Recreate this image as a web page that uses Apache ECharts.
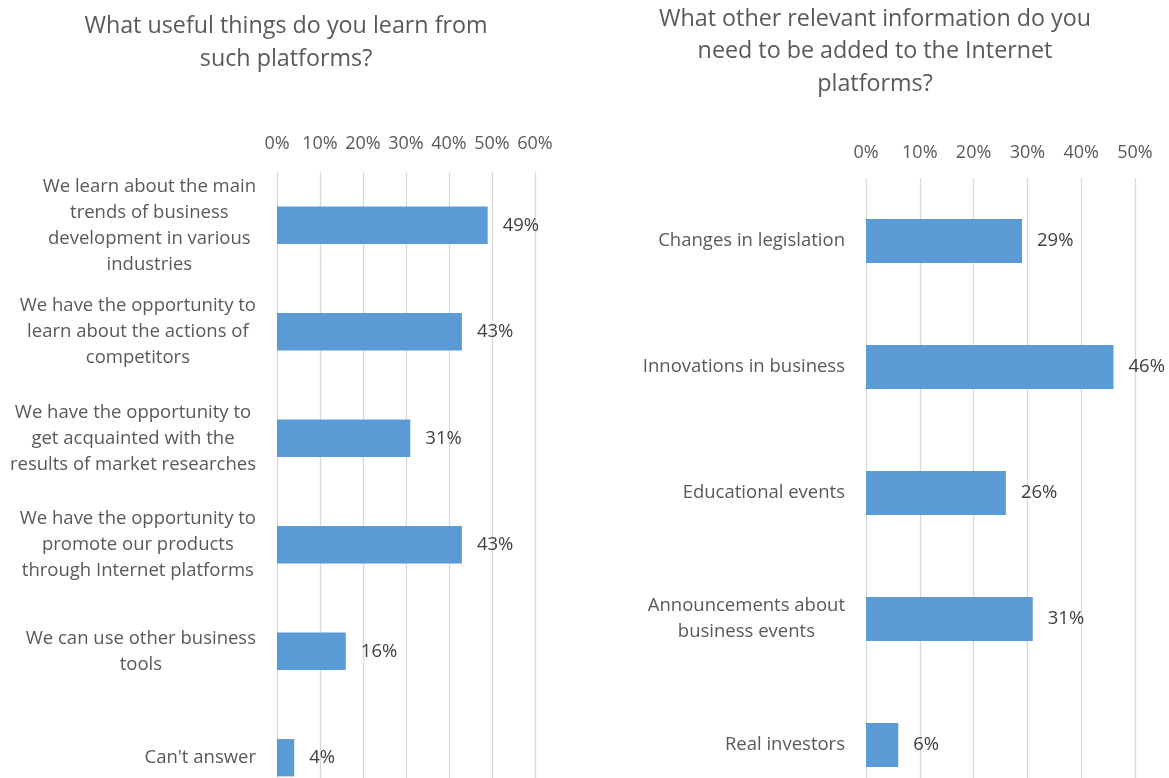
<!DOCTYPE html>
<html>
<head>
<meta charset="utf-8">
<script src="https://cdn.jsdelivr.net/npm/echarts@6/dist/echarts.min.js"></script>
<style>
html,body{margin:0;padding:0;background:#fff;overflow:hidden;}
#chart{width:1169px;height:840px;}
</style>
</head>
<body>
<div id="chart"></div>
<script>
const leftTitle = "What useful things do you learn from\nsuch platforms?";
const rightTitle = "What other relevant information do you\nneed to be added to the Internet\nplatforms?";
const leftCategories = [
  "We learn about the main\ntrends of business\ndevelopment in various\nindustries",
  "We have the opportunity to\nlearn about the actions of\ncompetitors",
  "We have the opportunity to\nget acquainted with the\nresults of market researches",
  "We have the opportunity to\npromote our products\nthrough Internet platforms",
  "We can use other business\ntools",
  "Can't answer"
];
const leftValues = [49, 43, 31, 43, 16, 4];
const rightCategories = [
  "Changes in legislation",
  "Innovations in business",
  "Educational events",
  "Announcements about\nbusiness events",
  "Real investors"
];
const rightValues = [29, 46, 26, 31, 6];

const FONT = '"Open Sans", "Noto Sans", sans-serif';
const TXT = '#595959';
const FS = 18.5;
const chart = echarts.init(document.getElementById('chart'));

function catLabel(v) {
  return v.split('\n').map(l => '{c|' + l + '}').join('\n');
}
function xAxisCfg(gi, max, margin) {
  return {
    type: 'value', gridIndex: gi, position: 'top', min: 0, max: max, interval: 10,
    axisLine: {show: false}, axisTick: {show: false},
    splitLine: {show: true, lineStyle: {color: '#D9D9D9', width: 1.3}},
    axisLabel: {formatter: '{value}%', color: TXT, fontSize: 18, fontFamily: FONT, margin: margin}
  };
}
function yAxisCfg(gi, cats) {
  return {
    type: 'category', gridIndex: gi, data: cats, inverse: true,
    axisLine: {show: false}, axisTick: {show: false},
    axisLabel: {
      formatter: catLabel, color: TXT, fontSize: FS, fontFamily: FONT, margin: 21,
      rich: {c: {align: 'center', color: TXT, fontSize: FS, fontFamily: FONT, lineHeight: 26}}
    }
  };
}
function barSeries(i, vals) {
  return {
    type: 'bar', xAxisIndex: i, yAxisIndex: i, data: vals, barWidth: '35%',
    itemStyle: {color: '#5B9BD5'},
    label: {show: true, position: 'right', distance: 15, formatter: '{c}%', color: '#404040', fontSize: FS, fontFamily: FONT}
  };
}

chart.setOption({
  animation: false,
  backgroundColor: '#fff',
  title: [
    {text: leftTitle, left: 281, top: 5, textAlign: 'center',
     textStyle: {color: TXT, fontSize: 23.3, fontWeight: 'normal', fontFamily: FONT, lineHeight: 33}},
    {text: rightTitle, left: 870, top: -2, textAlign: 'center',
     textStyle: {color: TXT, fontSize: 23.3, fontWeight: 'normal', fontFamily: FONT, lineHeight: 32.5}}
  ],
  grid: [
    {left: 277, top: 172, width: 258, height: 639},
    {left: 866, top: 178, width: 269, height: 630}
  ],
  xAxis: [xAxisCfg(0, 60, 19), xAxisCfg(1, 50, 16)],
  yAxis: [yAxisCfg(0, leftCategories), yAxisCfg(1, rightCategories)],
  series: [barSeries(0, leftValues), barSeries(1, rightValues)]
});
</script>
</body>
</html>
